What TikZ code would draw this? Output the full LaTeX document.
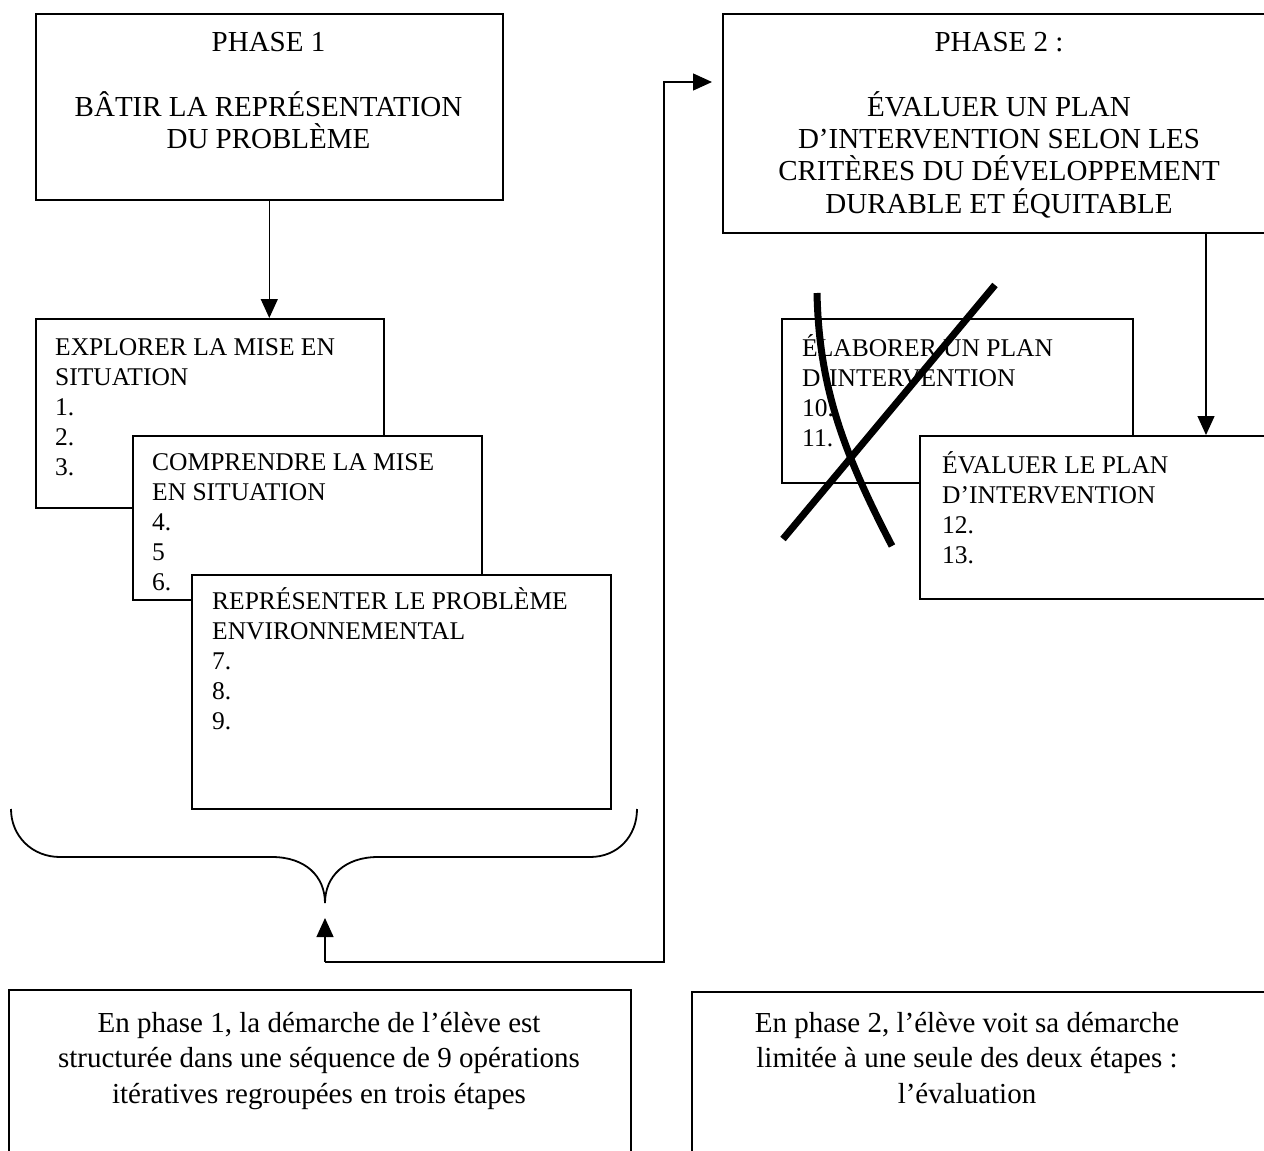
\documentclass[tikz,border=0pt]{standalone}
\usepackage{fontspec}
\setmainfont{Liberation Serif}
\usetikzlibrary{arrows.meta}

% Stacked lines whose baseline is the baseline of the first line
\newcommand\leftlines[1]{\vtop{\lineskiplimit=-\maxdimen\lineskip=0pt\halign{##\hfil\cr#1\crcr}}}
\newcommand\centerlines[1]{\vtop{\lineskiplimit=-\maxdimen\lineskip=0pt\halign{\hfil##\hfil\cr#1\crcr}}}

\begin{document}
\begin{tikzpicture}[x=1pt,y=-1pt,
  frame/.style={draw, line width=1.6pt, fill=white, rectangle, inner sep=0pt, anchor=north west},
  small/.style={font=\fontsize{25.5pt}{30pt}\selectfont, inner sep=0pt, anchor=base west},
  big/.style={font=\fontsize{29pt}{32.5pt}\selectfont, inner sep=0pt, anchor=base},
  note/.style={font=\fontsize{29pt}{35.5pt}\selectfont, inner sep=0pt, anchor=base},
  link/.style={line width=1.3pt, -{Triangle[width=17pt,length=19pt]}},
  brace/.style={line width=1.8pt},
  strike/.style={line width=7pt}]
\clip (0,0) rectangle (1264,1151);
\fill[white] (0,0) rectangle (1264,1151);

% ---------- Phase 1 ----------
\node[frame, minimum width=467pt, minimum height=186pt] (p1) at (35,13) {};
\node[big] (p1txt) at (268.5,51)
  {\centerlines{PHASE 1\cr\cr BÂTIR LA REPRÉSENTATION\cr DU PROBLÈME}};

\node[frame, minimum width=348pt, minimum height=189pt] (explore) at (35,318) {};
\node[small] (exploretxt) at (55,355)
  {\leftlines{EXPLORER LA MISE EN\cr SITUATION\cr 1.\cr 2.\cr 3.}};

\node[frame, minimum width=349pt, minimum height=164pt] (comprendre) at (132,435) {};
\node[small] (comprendretxt) at (152,470)
  {\leftlines{COMPRENDRE LA MISE\cr EN SITUATION\cr 4.\cr 5\cr 6.}};

\node[frame, minimum width=419pt, minimum height=234pt] (represent) at (191,574) {};
\node[small] (representtxt) at (212,609)
  {\leftlines{REPRÉSENTER LE PROBLÈME\cr ENVIRONNEMENTAL\cr 7.\cr 8.\cr 9.}};

\draw[link] (p1.south) -- (p1.south |- explore.north);

% ---------- Phase 2 ----------
\node[frame, minimum width=554pt, minimum height=219pt] (p2) at (722,13) {};
\node[big] (p2txt) at (999,51)
  {\centerlines{PHASE 2 :\cr\cr ÉVALUER UN PLAN\cr D’INTERVENTION SELON LES\cr CRITÈRES DU DÉVELOPPEMENT\cr DURABLE ET ÉQUITABLE}};

\node[frame, minimum width=351pt, minimum height=164pt] (elaborer) at (781,318) {};
\node[small] (elaborertxt) at (802,356)
  {\leftlines{ÉLABORER UN PLAN\cr D’INTERVENTION\cr 10.\cr 11.}};

% crossed-out step
\draw[strike] (783,539) -- (995,285);
\draw[strike] (817,293) .. controls (819,385) and (842,450) .. (892,546);

\node[frame, minimum width=371pt, minimum height=163pt] (evaluer) at (919,435) {};
\node[small] (evaluertxt) at (942,473)
  {\leftlines{ÉVALUER LE PLAN\cr D’INTERVENTION\cr 12.\cr 13.}};

\coordinate (p2out) at (1206,232);
\draw[link] (p2out) -- (p2out |- evaluer.north);

% ---------- brace under the three steps ----------
\coordinate (bracetip) at (325,903);
\draw[brace] (11,809) .. controls (11,836) and (32,857) .. (60,857) -- (272,857)
  .. controls (305,857) and (325,876) .. (bracetip)
  .. controls (325,876) and (345,857) .. (378,857) -- (590,857)
  .. controls (618,857) and (637,836) .. (637,809);

% ---------- return connector ----------
\coordinate (junction) at (325,962);
\coordinate (uptip) at (325,918);
\coordinate (turn) at (664,82);
\draw[link] (junction) -- (uptip);
\draw[link, shorten >=10pt] (junction) -| (turn) -- (turn -| p2.west);

% ---------- comments ----------
\node[frame, minimum width=622pt, minimum height=211pt] (note1) at (8,989) {};
\node[note] (note1txt) at (319,1032)
  {\centerlines{En phase 1, la démarche de l’élève est\cr structurée dans une séquence de 9 opérations\cr itératives regroupées en trois étapes}};

\node[frame, minimum width=600pt, minimum height=211pt] (note2) at (691,991) {};
\node[note] (note2txt) at (967,1032)
  {\centerlines{En phase 2, l’élève voit sa démarche\cr limitée à une seule des deux étapes :\cr l’évaluation}};
\end{tikzpicture}
\end{document}
